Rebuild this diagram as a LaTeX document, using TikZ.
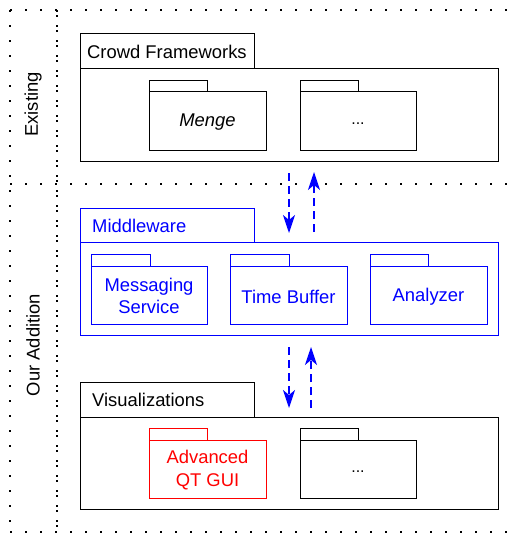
\documentclass[tikz,border=0pt]{standalone}
\usepackage{fontspec}
\setmainfont{Liberation Sans}
\usetikzlibrary{arrows.meta}
\definecolor{mblue}{RGB}{0,0,255}
\definecolor{mred}{RGB}{255,0,0}
\begin{document}
\begin{tikzpicture}[x=1pt,y=-1pt,
  font=\fontsize{18.4}{22.5}\selectfont,
  box/.style={draw,line width=1pt,inner sep=0pt,outer sep=0pt,anchor=north west},
  sparse/.style={line width=1.2pt,dash pattern=on 1.5pt off 13.5pt},
  dense/.style={line width=1.2pt,dash pattern=on 1.5pt off 3.5pt on 1.5pt off 8.5pt},
  flow/.style={draw=mblue,line width=1.2pt,dash pattern=on 8pt off 5pt,
    -{Stealth[length=18pt,width=12pt,inset=5pt]}},
  lbl/.style={inner sep=0pt,align=center},
  dots/.style={inner sep=0pt,font=\fontsize{16}{18}\selectfont}]
\useasboundingbox (0,0) rectangle (517,533);
% frame lines
\coordinate (tl) at (10,10); \coordinate (tr) at (517,10);
\coordinate (bl) at (10,532); \coordinate (br) at (517,532);
\coordinate (ml) at (10,184); \coordinate (mr) at (517,184);
\coordinate (vt) at (57,10); \coordinate (vb) at (57,533);
\draw[sparse] (tl) -- (tr);
\draw[sparse] (tl) -- (bl);
\draw[sparse] (ml) -- (mr);
\draw[sparse] (bl) -- (br);
\draw[dense] (vt) -- (vb);
\node[lbl,rotate=90] (existing) at (33,104.5) {Existing};
\node[lbl,rotate=90] (ouradd) at (33,345) {Our Addition};
% Crowd Frameworks
\node[box,minimum width=174pt,minimum height=35pt] (cftab) at (80,33) {};
\node[lbl,anchor=west] (cflbl) at (87,51.5) {Crowd Frameworks};
\node[box,minimum width=418pt,minimum height=93pt] (cfbody) at (80,68) {};
\node[box,minimum width=58pt,minimum height=11pt] (mengetab) at (149,80) {};
\node[box,minimum width=117pt,minimum height=59pt] (menge) at (149,91) {};
\node[lbl] at ([yshift=-2pt]menge.center) {\itshape Menge};
\node[box,minimum width=58pt,minimum height=11pt] (cfdtab) at (300,80) {};
\node[box,minimum width=116pt,minimum height=59pt] (cfdots) at (300,91) {};
\node[dots] at ([yshift=-3pt]cfdots.center) {...};
% Middleware
\node[box,draw=mblue,minimum width=174pt,minimum height=34pt] (mwtab) at (80,208) {};
\node[lbl,text=mblue,anchor=west] (mwlbl) at (92,226) {Middleware};
\node[box,draw=mblue,minimum width=418pt,minimum height=93pt] (mwbody) at (80,242) {};
\node[box,draw=mblue,minimum width=59pt,minimum height=12pt] (mstab) at (91,254) {};
\node[box,draw=mblue,minimum width=116pt,minimum height=58pt] (ms) at (91,266) {};
\node[lbl,text=mblue] at ([yshift=-1pt]ms.center) {Messaging\\Service};
\node[box,draw=mblue,minimum width=59pt,minimum height=12pt] (tbtab) at (230,254) {};
\node[box,draw=mblue,minimum width=117pt,minimum height=58pt] (tb) at (230,266) {};
\node[lbl,text=mblue] at ([yshift=-2pt]tb.center) {Time Buffer};
\node[box,draw=mblue,minimum width=58pt,minimum height=12pt] (antab) at (370,254) {};
\node[box,draw=mblue,minimum width=117pt,minimum height=58pt] (an) at (370,266) {};
\node[lbl,text=mblue] at ([yshift=-2pt]an.center) {Analyzer};
% Visualizations
\node[box,minimum width=174pt,minimum height=35pt] (vtab) at (80,382) {};
\node[lbl,anchor=west] (vlbl) at (92,400) {Visualizations};
\node[box,minimum width=418pt,minimum height=92pt] (vbody) at (80,417) {};
\node[box,draw=mred,minimum width=58pt,minimum height=12pt] (qttab) at (149,428) {};
\node[box,draw=mred,minimum width=117pt,minimum height=58pt] (qt) at (149,440) {};
\node[lbl,text=mred] at ([yshift=-1pt]qt.center) {Advanced\\QT GUI};
\node[box,minimum width=58pt,minimum height=12pt] (vdtab) at (300,428) {};
\node[box,minimum width=116pt,minimum height=58pt] (vdots) at (300,440) {};
\node[dots] at ([yshift=-3pt]vdots.center) {...};
% arrows
\coordinate (a1s) at (289,173); \coordinate (a1e) at (289,233);
\coordinate (a2s) at (314,232); \coordinate (a2e) at (314,172);
\coordinate (a3s) at (289,347); \coordinate (a3e) at (289,408);
\coordinate (a4s) at (311,408); \coordinate (a4e) at (311,347);
\draw[flow] (a1s) -- (a1e);
\draw[flow] (a2s) -- (a2e);
\draw[flow] (a3s) -- (a3e);
\draw[flow] (a4s) -- (a4e);
\end{tikzpicture}
\end{document}
